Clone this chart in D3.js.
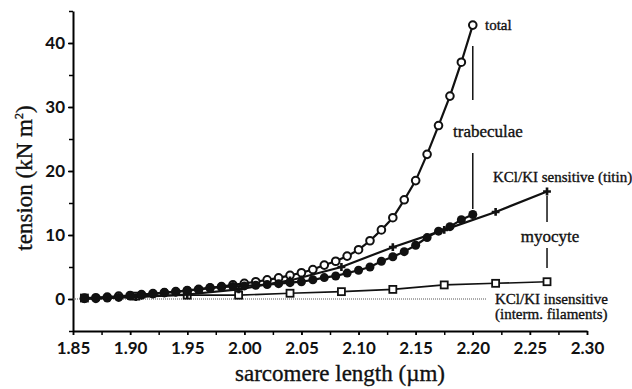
<!DOCTYPE html>
<html>
<head>
<meta charset="utf-8">
<script src="https://cdn.jsdelivr.net/npm/d3@7"></script>
<style>
  body { margin: 0; background: #fff; }
  svg { display: block; }
  .tick text { font-family: Lato, "DejaVu Sans", sans-serif; font-weight: 700; font-size: 17px; fill: #111; }
  .lbl { font-family: "Liberation Serif", "Times New Roman", serif; fill: #111; stroke: #111; stroke-width: 0.35px; }
</style>
</head>
<body>
<div id="chart"><svg></svg></div>
<script>
// trabeculae (one point per 0.01 um)
let trabLength = [1.86, 1.87, 1.88, 1.89, 1.90, 1.91, 1.92, 1.93, 1.94, 1.95, 1.96, 1.97,
    1.98, 1.99, 2.00, 2.01, 2.02, 2.03, 2.04, 2.05, 2.06, 2.07, 2.08, 2.09, 2.10, 2.11,
    2.12, 2.13, 2.14, 2.15, 2.16, 2.17, 2.18, 2.19, 2.20];
let trabTotal = [0.15, 0.2, 0.3, 0.45, 0.55, 0.7, 0.85, 1.0, 1.15, 1.3, 1.5, 1.75,
    1.95, 2.2, 2.45, 2.7, 3.0, 3.3, 3.7, 4.1, 4.6, 5.3, 5.9, 6.7, 7.7, 9.1,
    10.8, 12.7, 15.5, 18.5, 22.6, 27.1, 31.7, 37.0, 42.8];
let trabTitin = [0.05, 0.05, 0.15, 0.25, 0.45, 0.6, 0.8, 1.0, 1.1, 1.35, 1.5, 1.75,
    1.85, 1.95, 2.05, 2.15, 2.25, 2.4, 2.55, 2.7, 3.0, 3.35, 3.6, 4.05, 4.5, 5.0,
    5.9, 6.6, 7.4, 8.4, 9.6, 10.6, 11.3, 12.4, 13.2];

// myocyte
let myoLength = [1.86, 1.905, 1.95, 1.995, 2.04, 2.085, 2.13, 2.175, 2.22, 2.265];
let myoTitin = [0.1, 0.3, 0.7, 1.5, 2.9, 5.0, 8.1, 10.8, 13.6, 16.8];
let myoIF = [0.15, 0.45, 0.6, 0.6, 0.9, 1.15, 1.5, 2.2, 2.45, 2.7];

let xTicks = [1.85, 1.90, 1.95, 2.00, 2.05, 2.10, 2.15, 2.20, 2.25, 2.30];
let yTicks = [0, 10, 20, 30, 40];

let width = 632, height = 389;
let margin = {top: 11, right: 45, bottom: 58, left: 73};

let svg = d3.select("#chart").select("svg")
    .attr("width", width)
    .attr("height", height);

let x = d3.scaleLinear()
    .domain([1.85, 2.30])
    .range([margin.left, width - margin.right]);
let y = d3.scaleLinear()
    .domain([-5, 45])
    .range([height - margin.bottom, margin.top]);

// axes
let xMinor = d3.range(1.85, 2.3001, 0.025);
let yMinor = d3.range(-5, 45.001, 5);

svg.append("g")
    .attr("transform", `translate(0,${y(-5)})`)
    .call(d3.axisBottom(x).tickValues(xMinor).tickSize(4).tickSizeOuter(0).tickFormat(""))
    .call(g => g.selectAll("line").attr("stroke-width", 1.5))
    .call(g => g.select(".domain").attr("stroke-width", 2));
svg.append("g")
    .attr("transform", `translate(0,${y(-5)})`)
    .call(d3.axisBottom(x).tickValues(xTicks).tickSize(4).tickPadding(7).tickFormat(d3.format(".2f")))
    .call(g => g.select(".domain").remove())
    .call(g => g.selectAll("line").attr("stroke-width", 1.5));

svg.append("g")
    .attr("transform", `translate(${x(1.85)},0)`)
    .call(d3.axisLeft(y).tickValues(yMinor).tickSize(4).tickSizeOuter(0).tickFormat(""))
    .call(g => g.selectAll("line").attr("stroke-width", 1.5))
    .call(g => g.select(".domain").attr("stroke-width", 2));
svg.append("g")
    .attr("transform", `translate(${x(1.85)},0)`)
    .call(d3.axisLeft(y).tickValues(yTicks).tickSize(5).tickPadding(3))
    .call(g => g.select(".domain").remove())
    .call(g => g.selectAll("line").attr("stroke-width", 1.5));

// axis titles
svg.append("text")
    .attr("class", "lbl")
    .attr("x", 340)
    .attr("y", 381)
    .attr("text-anchor", "middle")
    .style("font-size", "23px")
    .text("sarcomere length (\u00b5m)");

let yt = svg.append("text")
    .attr("class", "lbl")
    .attr("transform", "translate(32,178) rotate(-90)")
    .attr("text-anchor", "middle")
    .style("font-size", "23px");
yt.append("tspan").text("tension (kN m");
yt.append("tspan").attr("dy", -9).style("font-size", "12px").text("2");
yt.append("tspan").attr("dy", 9).text(")");

// zero reference (dotted)
svg.append("line")
    .attr("x1", x(1.85)).attr("x2", x(2.212))
    .attr("y1", y(0)).attr("y2", y(0))
    .attr("stroke", "#555")
    .attr("stroke-width", 1)
    .attr("stroke-dasharray", "1,1");

let line = d3.line();

function series(xs, ys) {
    return xs.map((d, i) => [x(d), y(ys[i])]);
}

// myocyte insensitive (squares)
svg.append("path")
    .attr("d", line(series(myoLength, myoIF)))
    .attr("fill", "none").attr("stroke", "#111").attr("stroke-width", 1.6);
svg.selectAll(".sq")
    .data(series(myoLength, myoIF))
    .join("rect")
    .attr("x", d => d[0] - 3.5).attr("y", d => d[1] - 3.5)
    .attr("width", 7).attr("height", 7)
    .attr("fill", "#fff").attr("stroke", "#111").attr("stroke-width", 1.8);

// trabeculae total (open circles)
svg.append("path")
    .attr("d", line(series(trabLength, trabTotal)))
    .attr("fill", "none").attr("stroke", "#111").attr("stroke-width", 2.2);
svg.selectAll(".oc")
    .data(series(trabLength, trabTotal))
    .join("circle")
    .attr("cx", d => d[0]).attr("cy", d => d[1]).attr("r", 3.8)
    .attr("fill", "#fff").attr("stroke", "#111").attr("stroke-width", 2);

// myocyte titin (crosses)
svg.append("path")
    .attr("d", line(series(myoLength, myoTitin)))
    .attr("fill", "none").attr("stroke", "#111").attr("stroke-width", 2.2);
svg.selectAll(".cr")
    .data(series(myoLength, myoTitin))
    .join("path")
    .attr("transform", d => `translate(${d[0]},${d[1]})`)
    .attr("d", d3.symbol(d3.symbolCross, 34))
    .attr("fill", "#111");

// trabeculae titin (filled circles)
svg.append("path")
    .attr("d", line(series(trabLength, trabTitin)))
    .attr("fill", "none").attr("stroke", "#111").attr("stroke-width", 2.2);
svg.selectAll(".fc")
    .data(series(trabLength, trabTitin))
    .join("circle")
    .attr("cx", d => d[0]).attr("cy", d => d[1]).attr("r", 4.5)
    .attr("fill", "#111");

// annotations
let ann = svg.append("g").attr("class", "lbl");
let xe = x(2.20), xm = x(2.265);
ann.append("line").attr("x1", xe).attr("x2", xe).attr("y1", 46).attr("y2", 100)
    .attr("stroke", "#111").attr("stroke-width", 1.5);
ann.append("line").attr("x1", xe).attr("x2", xe).attr("y1", 153).attr("y2", 209)
    .attr("stroke", "#111").attr("stroke-width", 1.5);
ann.append("line").attr("x1", xm).attr("x2", xm).attr("y1", 196).attr("y2", 222)
    .attr("stroke", "#111").attr("stroke-width", 1.5);
ann.append("line").attr("x1", xm).attr("x2", xm).attr("y1", 248).attr("y2", 268)
    .attr("stroke", "#111").attr("stroke-width", 1.5);

ann.append("text").attr("x", 485).attr("y", 30).style("font-size", "15px").text("total");
ann.append("text").attr("x", 453).attr("y", 137).style("font-size", "17px").text("trabeculae");
ann.append("text").attr("x", 493).attr("y", 182).style("font-size", "15px").text("KCl/KI sensitive (titin)");
ann.append("text").attr("x", 550).attr("y", 242).attr("text-anchor", "middle").style("font-size", "17px").text("myocyte");
ann.append("text").attr("x", 495).attr("y", 304).style("font-size", "15px").text("KCl/KI insensitive");
ann.append("text").attr("x", 495).attr("y", 319).style("font-size", "15px").text("(interm. filaments)");
</script>
</body>
</html>
